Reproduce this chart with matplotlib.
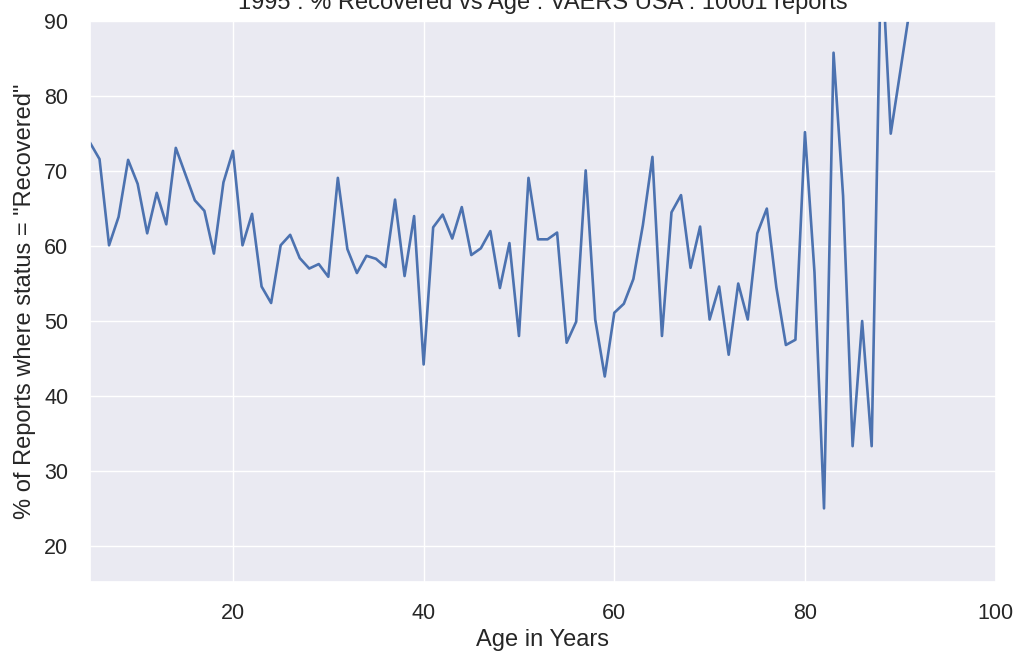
import numpy as np
import matplotlib
matplotlib.use("Agg")
import matplotlib.pyplot as plt
import seaborn as sns

# age in years vs % of reports with status "Recovered"
ages = list(range(5, 92))
pct_recovered = [
    73.8, 71.6, 60.1, 63.9, 71.5, 68.3, 61.7, 67.1, 62.9, 73.1,   # 5-14
    69.6, 66.1, 64.7, 59.0, 68.5, 72.7, 60.1, 64.3, 54.6, 52.4,   # 15-24
    60.1, 61.5, 58.4, 57.0, 57.6, 55.9, 69.1, 59.6, 56.4, 58.7,   # 25-34
    58.3, 57.2, 66.2, 56.0, 64.0, 44.2, 62.5, 64.2, 61.0, 65.2,   # 35-44
    58.8, 59.7, 62.0, 54.4, 60.4, 48.0, 69.1, 60.9, 60.9, 61.8,   # 45-54
    47.1, 49.9, 70.1, 50.2, 42.6, 51.1, 52.3, 55.6, 62.8, 71.9,   # 55-64
    48.0, 64.5, 66.8, 57.1, 62.6, 50.2, 54.6, 45.5, 55.0, 50.2,   # 65-74
    61.7, 65.0, 54.5, 46.8, 47.5, 75.2, 56.5, 25.0, 85.8, 66.7,   # 75-84
    33.3, 50.0, 33.3, 100.0, 75.0, 83.3, 91.7,                    # 85-91
]

title = "1995 : % Recovered vs Age : VAERS USA : 10001 reports"

sns.set_theme(style="darkgrid")
plt.rcParams["font.family"] = ["Liberation Sans", "DejaVu Sans"]

fig = plt.figure(figsize=(10.18, 6.53), dpi=100)
ax = fig.add_axes([0.0884, 0.109, 0.8896, 0.8585])

ax.plot(ages, pct_recovered, color="#4C72B0", linewidth=1.9)

ax.set_xlim(5, 100)
ax.set_ylim(15.2, 90)
ax.set_xticks([20, 40, 60, 80, 100])
ax.set_yticks([20, 30, 40, 50, 60, 70, 80, 90])
ax.tick_params(labelsize=15.5, colors="#262626", pad=9.5)

ax.set_xlabel("Age in Years", fontsize=17, color="#262626", labelpad=3)
ax.set_ylabel('% of Reports where status = "Recovered"', fontsize=17,
              color="#262626", labelpad=6)
ax.set_title(title, fontsize=17, color="#262626", pad=8.5)

fig.savefig("out.png", dpi=100)
